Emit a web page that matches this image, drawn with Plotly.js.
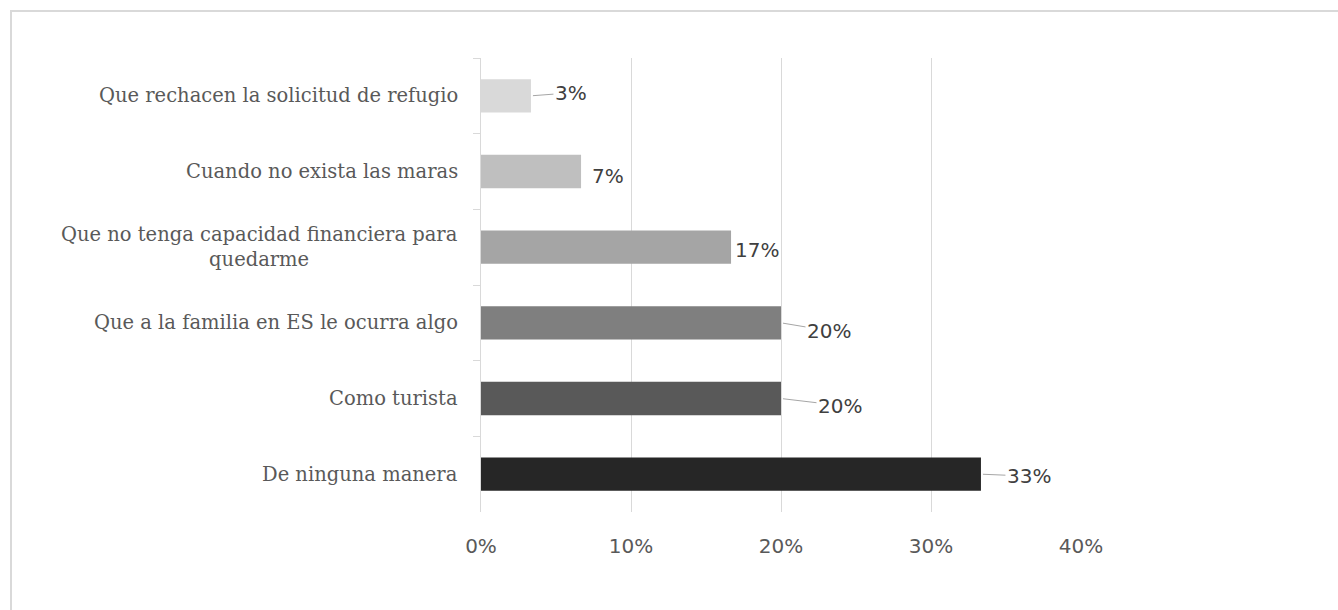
<!DOCTYPE html>
<html>
<head>
<meta charset="utf-8">
<script src="https://cdn.plot.ly/plotly-3.0.1.min.js"></script>
<style>
  html, body { margin: 0; padding: 0; background: #ffffff; }
  #frame { position: absolute; left: 10px; top: 10px; width: 1400px; height: 700px; border: 2px solid #d9d9d9; box-sizing: border-box; }
  #chart { position: absolute; left: 0; top: 0; width: 1338px; height: 610px; }
</style>
</head>
<body>
<div id="frame"></div>
<div id="chart"></div>
<script>
// Categories, top to bottom
const categories = [
  "Que rechacen la solicitud de refugio",
  "Cuando no exista las maras",
  "Que no tenga capacidad financiera para<br>quedarme",
  "Que a la familia en ES le ocurra algo",
  "Como turista",
  "De ninguna manera"
];
// Share of respondents (fraction)
const shares = [0.0333, 0.0667, 0.1667, 0.20, 0.20, 0.3333];
// Data label texts
const labelTexts = ["3%", "7%", "17%", "20%", "20%", "33%"];
// X-axis ticks
const tickValues = [0, 0.1, 0.2, 0.3, 0.4];
const tickLabels = ["0%", "10%", "20%", "30%", "40%"];

// Styles (not data)
const barColors = ["#d9d9d9", "#bfbfbf", "#a5a5a5", "#7f7f7f", "#595959", "#262626"];
const labelOffsets = [
  {ax: 40, ay: -3, line: true},
  {ax: 27, ay: 4, line: false},
  {ax: 26, ay: 3, line: false},
  {ax: 48, ay: 8, line: true},
  {ax: 59, ay: 7, line: true},
  {ax: 48, ay: 2, line: true}
];

const trace = {
  type: "bar",
  orientation: "h",
  x: shares,
  y: categories,
  marker: { color: barColors, line: { width: 0 } },
  hoverinfo: "skip"
};

const annotations = [];
// Category labels (centered multi-line like the original)
categories.forEach((c) => {
  annotations.push({
    x: 0, y: c, xref: "x", yref: "y",
    text: c, showarrow: false,
    xanchor: "right", yanchor: "middle", align: "center",
    xshift: -21,
    font: { family: "DejaVu Serif", size: 19.5, color: "#595959" }
  });
});
// Data labels with leader lines
shares.forEach((v, i) => {
  const o = labelOffsets[i];
  annotations.push({
    x: v, y: categories[i], xref: "x", yref: "y",
    text: labelTexts[i],
    showarrow: true, arrowhead: 0, arrowwidth: 1,
    arrowcolor: o.line ? "#a6a6a6" : "rgba(0,0,0,0)",
    standoff: 2,
    ax: o.ax, ay: o.ay, axref: "pixel", ayref: "pixel",
    font: { family: "DejaVu Sans", size: 20, color: "#404040" }
  });
});

const layout = {
  width: 1338, height: 610,
  margin: { l: 481, r: 257, t: 58, b: 98, pad: 0 },
  paper_bgcolor: "rgba(0,0,0,0)",
  plot_bgcolor: "rgba(0,0,0,0)",
  showlegend: false,
  bargap: 0.56,
  xaxis: {
    range: [0, 0.4],
    tickvals: tickValues,
    ticktext: tickLabels,
    showgrid: true, gridcolor: "#d9d9d9", gridwidth: 1,
    zeroline: false, showline: false, ticks: "",
    ticklabelstandoff: 20,
    tickfont: { family: "DejaVu Sans", size: 20, color: "#595959" },
    fixedrange: true, automargin: false
  },
  yaxis: {
    type: "category",
    autorange: "reversed",
    showgrid: false, zeroline: false,
    showline: true, linecolor: "#d9d9d9", linewidth: 1,
    ticks: "outside", tickson: "boundaries", ticklen: 7, tickcolor: "#d9d9d9", tickwidth: 1,
    showticklabels: false,
    fixedrange: true, automargin: false
  },
  annotations: annotations
};

Plotly.newPlot("chart", [trace], layout, { displayModeBar: false, staticPlot: true });
</script>
</body>
</html>
